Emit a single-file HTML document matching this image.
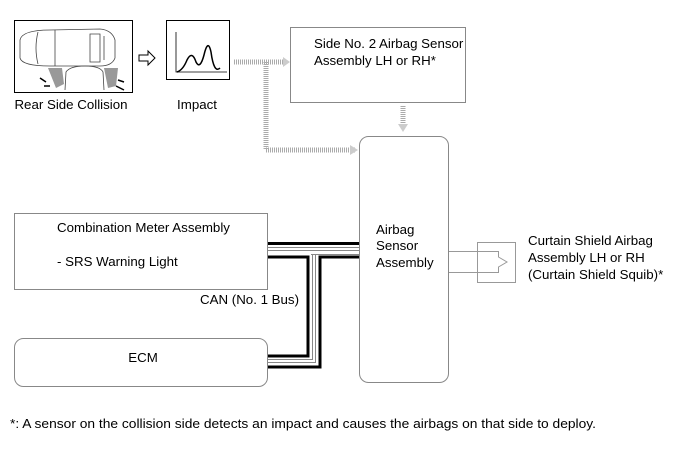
<!DOCTYPE html>
<html><head><meta charset="utf-8"><style>html,body{margin:0;padding:0;background:#fff}svg{display:block}text{font-family:"Liberation Sans",sans-serif;fill:#000}</style></head><body>
<svg width="690" height="465" viewBox="0 0 690 465" xmlns="http://www.w3.org/2000/svg">
<rect x="14.5" y="20.5" width="118" height="72" fill="#fff" stroke="#000"/>
<g fill="none" stroke="#444" stroke-width="0.8">
<path d="M20 40 Q22 30 50 30 L100 29 Q112 30 115 40 L115 58 Q112 66 100 66 L50 66 Q22 66 20 58 Z"/>
<path d="M38 32 Q34 48 38 64 M55 30 L55 66 M90 34 L100 34 L100 62 L90 62 Z M104 36 L104 60"/>
<path d="M65 90 L66 72 Q70 66 85 66 Q100 66 103 72 L104 90"/>
</g>
<path d="M48 68 L62 68 L64 84 L56 88 Z M104 68 L118 68 L116 86 L108 88 Z" fill="#999"/>
<path d="M40 78 L46 82 M44 86 L50 86 M118 80 L124 82 M116 86 L124 90" stroke="#000" stroke-width="1.5"/>
<text x="71" y="109" font-size="13.3" text-anchor="middle">Rear Side Collision</text>
<path d="M139 55 L148 55 L148 51 L155 58 L148 65 L148 61 L139 61 Z" fill="#fff" stroke="#000"/>
<rect x="166.5" y="20.5" width="63" height="59" fill="#fff" stroke="#000"/>
<path d="M176 32 L176 72 L227 72" fill="none" stroke="#000" stroke-width="0.8"/>
<path d="M177 72 Q183 70 187 60 Q192 50 196 62 Q200 70 204 55 Q208 38 211 52 Q214 74 220 68" fill="none" stroke="#000" stroke-width="1.5"/>
<text x="197" y="109" font-size="13.3" text-anchor="middle">Impact</text>
<g stroke="#aaa" stroke-width="5" stroke-dasharray="1 1" fill="none">
<path d="M234 62 L284 62"/>
<path d="M266 62 L266 150 L356 150"/>
<path d="M403 106 L403 126"/>
</g>
<path d="M283 57 L290 62 L283 67 Z M350 145 L358 150 L350 155 Z M398 124 L403 132 L408 124 Z" fill="#ccc"/>
<rect x="290.5" y="27.5" width="175" height="75" fill="#fff" stroke="#888"/>
<text x="314" y="48" font-size="13.3">Side No. 2 Airbag Sensor</text>
<text x="314" y="65" font-size="13.3">Assembly LH or RH*</text>
<rect x="359.5" y="136.5" width="89" height="246" rx="9" fill="#fff" stroke="#888"/>
<text x="376" y="234" font-size="13.3">Airbag</text>
<text x="376" y="250" font-size="13.3">Sensor</text>
<text x="376" y="267" font-size="13.3">Assembly</text>
<rect x="14.5" y="213.5" width="253" height="76" fill="#fff" stroke="#888"/>
<text x="57" y="232" font-size="13.3">Combination Meter Assembly</text>
<text x="57" y="266" font-size="13.3">- SRS Warning Light</text>
<text x="200" y="304" font-size="13.3">CAN (No. 1 Bus)</text>
<rect x="14.5" y="338.5" width="253" height="48" rx="9" fill="#fff" stroke="#888"/>
<text x="143" y="362" font-size="13.3" text-anchor="middle">ECM</text>
<g fill="none">
<path d="M268 243.5 L359 243.5" stroke="#000" stroke-width="3"/>
<path d="M268 247.5 L359 247.5" stroke="#888" stroke-width="1"/>
<path d="M268 250.5 L359 250.5" stroke="#888" stroke-width="1"/>
<path d="M268 257 L308 257 L308 356 L268 356" stroke="#000" stroke-width="3"/>
<path d="M312.5 254 L312.5 359.5 L268 359.5" stroke="#888" stroke-width="1"/>
<path d="M315.5 254 L315.5 362.5 L268 362.5" stroke="#888" stroke-width="1"/>
<path d="M359 257 L320 257 L320 367 L268 367" stroke="#000" stroke-width="3"/>
<path d="M359 254.5 L311 254.5" stroke="#888" stroke-width="1"/>
</g>
<rect x="477.5" y="242.5" width="38" height="40" fill="none" stroke="#999"/>
<path d="M449 251.5 L498.5 251.5 L498.5 257 L507 262 L498.5 267 L498.5 272.5 L449 272.5" fill="none" stroke="#999"/>
<text x="528" y="245" font-size="13.3">Curtain Shield Airbag</text>
<text x="528" y="262" font-size="13.3">Assembly LH or RH</text>
<text x="528" y="279" font-size="13.3">(Curtain Shield Squib)*</text>
<text x="10" y="428" font-size="13.3" textLength="586" lengthAdjust="spacingAndGlyphs">*: A sensor on the collision side detects an impact and causes the airbags on that side to deploy.</text>
</svg>
</body></html>
